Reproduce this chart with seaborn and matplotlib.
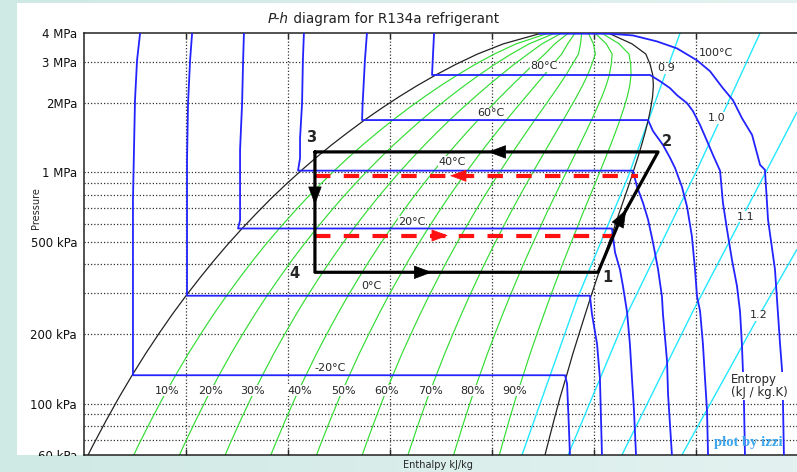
import numpy as np
import matplotlib
matplotlib.use("Agg")
import matplotlib.pyplot as plt
import matplotlib.colors as mcolors
from matplotlib.patches import Rectangle
from matplotlib.ticker import FixedLocator, NullFormatter
import seaborn as sns

# ---------------------------------------------------------------------------
# R134a saturation table (IIR reference: h = 200 kJ/kg for liquid at 0 degC)
# pressure in kPa, enthalpy in kJ/kg
sat_P = [51.2, 66.1, 84.4, 106.6, 132.7, 164.0, 200.7, 243.5, 292.8, 349.6,
         414.6, 488.6, 571.7, 665.4, 770.2, 887.0, 1016.6, 1159.9, 1317.9,
         1491.5, 1681.8, 1889.8, 2116.8, 2363.8, 2633.2, 2925.9, 3244.5,
         3591.5, 3972.4]
sat_hf = [148.1, 154.4, 160.8, 167.2, 173.6, 180.1, 186.7, 193.3, 200.0, 206.8,
          213.6, 220.5, 227.5, 234.6, 241.7, 249.0, 256.4, 263.9, 271.6,
          279.5, 287.5, 295.8, 304.3, 313.1, 322.4, 332.2, 342.9, 355.6, 373.3]
sat_hg = [374.0, 377.2, 380.3, 383.4, 386.6, 389.6, 392.7, 395.7, 398.6, 401.5,
          404.3, 407.1, 409.8, 412.3, 414.8, 417.2, 419.4, 421.5, 423.4,
          425.1, 426.6, 427.8, 428.7, 429.1, 428.8, 427.5, 425.4, 418.6, 407.7]
crit_P = 4059.0
crit_h = 389.6

# vapour quality lines
quality_levels = [0.1, 0.2, 0.3, 0.4, 0.5, 0.6, 0.7, 0.8, 0.9]
quality_labels = ["10%", "20%", "30%", "40%", "50%", "60%", "70%", "80%", "90%"]

# isotherms (liquid branch, two-phase plateau, superheated branch)
t_m20_h = [177.5, 176.0, 175.0, 174.0, 174.0, 385.8, 386.8, 387.7, 388.2]
t_m20_P = [4000, 3047, 2050, 761, 132.7, 132.7, 122, 78.8, 60]

t_0_h = [203.0, 202.0, 201.0, 200.5, 200.5, 398.0, 399.0, 401.5, 402.9, 403.9]
t_0_P = [4000, 3047, 1990, 1129, 292.8, 292.8, 244, 181, 129, 60]

t_20_h = [228.4, 228.0, 227.5, 226.5, 226.5, 225.5, 225.5, 408.8, 410.3, 412.7,
          414.2, 416.2, 417.6, 418.6, 419.6, 420.6]
t_20_P = [4000, 3047, 1990, 1250, 620, 571.7, 571.7, 571.7, 451, 381,
          322, 249, 181, 129, 93.3, 60]

t_40_h = [257.8, 257.3, 256.9, 255.9, 255.9, 254.9, 419.1, 421.1, 424.0, 426.5,
          428.9, 431.4, 433.3, 433.8, 435.8, 436.3, 438.2]
t_40_P = [4000, 3047, 1990, 1400, 1150, 1016.6, 1016.6, 866, 739, 625,
          498, 381, 291, 244, 153, 110, 60]

t_60_h = [288.7, 287.7, 286.6, 286.3, 426.5, 428.9, 433.8, 437.3, 439.7, 443.1,
          445.6, 448.0, 449.5, 450.5, 452.0, 453.4, 454.4, 455.4, 455.9]
t_60_P = [4000, 3047, 1990, 1681.8, 1681.8, 1508, 1313, 1154, 1045, 866,
          711, 528, 381, 291, 251, 181, 129, 93.3, 60]

t_80_h = [321.6, 320.6, 427.5, 432.4, 437.3, 440.7, 445.6, 448.5, 452.0, 455.4,
          458.3, 461.8, 463.2, 465.2, 467.6, 470.1, 471.6, 472.5, 473.0, 473.5, 474.0]
t_80_P = [4000, 2633.2, 2633.2, 2475, 2309, 2154, 1990, 1839, 1601, 1366,
          1189, 1015, 739, 566, 420, 322, 249, 181, 139, 103, 60]

t_100_h = [373.3, 407.7, 419.1, 430.9, 440.7, 450.5, 456.9, 463.2, 468.1, 472.5,
           477.5, 481.4, 483.8, 485.3, 488.7, 490.2, 491.2, 492.2, 492.6, 493.1]
t_100_P = [3972.4, 3972.4, 3904, 3678, 3431, 3047, 2733, 2309, 2050, 1716,
           1450, 1077, 1025, 625, 381, 244, 181, 139, 105, 60]

iso_labels = ["-20°C", "0°C", "20°C", "40°C", "60°C", "80°C", "100°C"]

# isentropes
s_a_h = [364.7, 391.7, 416.7, 442.2]
s_a_P = [60, 283, 956, 4000]
s_b_h = [387.3, 402.9, 416.2, 450.5, 481.4]
s_b_P = [60, 128, 244, 1025, 4000]
s_c_h = [413.7, 448.5, 484.8, 499.5]
s_c_P = [60, 251, 1025, 1820]
s_d_h = [443.1, 479.9, 499.5]
s_d_P = [60, 232, 464]
s_labels = ["0.9", "1.0", "1.1", "1.2"]

# refrigeration cycle 3 -> 4 -> 1 -> 2 -> 3
cycle_h = [263.2, 263.2, 402.0, 411.8, 431.4, 263.2]
cycle_P = [1225, 369.7, 369.7, 594.5, 1225, 1225]
cycle_names = ["3", "4", "1", "2"]

# alternative condensing / evaporating pressures
cond_h = [263.2, 421.6]
cond_P = [966, 966]
evap_h = [263.2, 408.8]
evap_P = [533, 533]

# axis ticks and grid
p_ticks = [60, 100, 200, 500, 1000, 2000, 3000, 4000]
p_tick_labels = ["60 kPa", "100 kPa", "200 kPa", "500 kPa", "1 MPa", "2MPa",
                 "3 MPa", "4 MPa"]
p_grid = [70, 80, 90, 100, 200, 300, 400, 500, 600, 700, 800, 900, 1000,
          2000, 3000]
h_grid = [200, 250, 300, 350, 400, 450]

# ---------------------------------------------------------------------------
BLUE = "#2323ff"
GREEN = "#33dd33"
CYAN = "#22e8ff"
RED = "#ff1111"
DOTS = (0, (1.0, 1.6))

sns.set_theme(style="white")
plt.rcParams["font.family"] = ["DejaVu Sans"]

W, H = 797.0, 472.0
fig = plt.figure(figsize=(W / 100, H / 100), dpi=100)


def teal_ramp():
    ramp = np.linspace(0, 1, 200)
    c0 = np.array(mcolors.to_rgb("#cfe9e4"))
    c1 = np.array(mcolors.to_rgb("#e3f2f0"))
    return c0[None, None, :] * (1 - ramp)[None, :, None] + c1[None, None, :] * ramp[None, :, None]


# slide background and white panel
bg = fig.add_axes([0, 0, 1, 1], zorder=-10)
bg.imshow(teal_ramp(), aspect="auto", extent=[0, 1, 0, 1])
bg.axis("off")
fig.add_artist(Rectangle((17 / W, 1 - 455 / H), (800 - 17) / W, (455 - 3) / H,
                         transform=fig.transFigure, facecolor="white",
                         edgecolor="none", zorder=-5))

ax = fig.add_axes([84 / W, 1 - 455 / H, (798 - 84) / W, (455 - 33) / H])
ax.set_facecolor("white")
ax.set_yscale("log")
ax.set_xlim(150, 500)
ax.set_ylim(60, 4000)

for h in h_grid:
    ax.axvline(h, color="#333333", lw=0.9, ls=DOTS, zorder=1)
for p in p_grid:
    ax.axhline(p, color="#333333", lw=0.9, ls=DOTS, zorder=1)

# quality lines (lever rule on the saturation table)
hf = np.array(sat_hf)
hg = np.array(sat_hg)
for q in quality_levels:
    qh = list(hf + q * (hg - hf)) + [crit_h]
    qp = list(sat_P) + [crit_P]
    sns.lineplot(x=qh, y=qp, sort=False, estimator=None, color=GREEN, lw=0.85,
                 ax=ax, zorder=2)

# isentropes
for sh, sp in [(s_a_h, s_a_P), (s_b_h, s_b_P), (s_c_h, s_c_P), (s_d_h, s_d_P)]:
    sns.lineplot(x=sh, y=sp, sort=False, estimator=None, color=CYAN, lw=1.0,
                 ax=ax, zorder=2.5)

# saturation dome
dome_h = list(sat_hf) + [crit_h] + list(sat_hg[::-1])
dome_P = list(sat_P) + [crit_P] + list(sat_P[::-1])
sns.lineplot(x=dome_h, y=dome_P, sort=False, estimator=None, color="#222222",
             lw=0.9, ax=ax, zorder=3)

# isotherms
for th, tp in [(t_m20_h, t_m20_P), (t_0_h, t_0_P), (t_20_h, t_20_P),
               (t_40_h, t_40_P), (t_60_h, t_60_P), (t_80_h, t_80_P),
               (t_100_h, t_100_P)]:
    sns.lineplot(x=th, y=tp, sort=False, estimator=None, color=BLUE, lw=1.3,
                 ax=ax, zorder=3.5)

# dashed alternative pressure levels
for lh, lp in [(cond_h, cond_P), (evap_h, evap_P)]:
    sns.lineplot(x=lh, y=lp, sort=False, estimator=None, color=RED, lw=3.0,
                 linestyle=(0, (3.7, 3.2)), ax=ax, zorder=4)

# cycle
sns.lineplot(x=cycle_h, y=cycle_P, sort=False, estimator=None, color="black",
             lw=2.3, ax=ax, zorder=5)


def arrow_head(tip, tail, color, length, halfw):
    ax.annotate("", xy=tip, xytext=tail,
                arrowprops=dict(arrowstyle=f"-|>,head_length={length},head_width={halfw}",
                                color=color, lw=0.5, shrinkA=0, shrinkB=0,
                                mutation_scale=10),
                zorder=7)


arrow_head((348.0, cycle_P[0]), (360.0, cycle_P[0]), "black", 1.2, 0.45)
arrow_head((320.6, cycle_P[2]), (310.0, cycle_P[2]), "black", 1.2, 0.45)
arrow_head((cycle_h[0], 725), (cycle_h[0], 800), "black", 1.2, 0.45)
arrow_head((415.8, 690), (cycle_h[3], cycle_P[3]), "black", 1.2, 0.45)
arrow_head((329.4, cond_P[0]), (336.0, cond_P[0]), RED, 1.08, 0.4)
arrow_head((328.4, evap_P[0]), (322.0, evap_P[0]), RED, 1.08, 0.4)

# state point numbers
name_pts = [(cycle_h[0], cycle_P[0]), (cycle_h[1], cycle_P[1]),
            (cycle_h[2], cycle_P[2]), (cycle_h[4], cycle_P[4])]
name_offsets = [(-2.9, 10.1), (-15.0, -0.7), (6.5, -3.6), (6.5, 7.2)]
for name, pt, off in zip(cycle_names, name_pts, name_offsets):
    ax.annotate(name, xy=pt, xytext=off, textcoords="offset points",
                fontsize=10.5, fontweight="bold", ha="center", va="center",
                zorder=8)

white_box = dict(facecolor="white", edgecolor="none", pad=0.4)

# isotherm labels
iso_label_h = [270.6, 290.7, 310.8, 330.4, 349.5, 375.5, 459.8]
iso_label_P = [142.8, 321.8, 612, 1110, 1803, 2871, 3266]
for txt, lh, lp in zip(iso_labels, iso_label_h, iso_label_P):
    ax.text(lh, lp, txt, fontsize=8, ha="center", va="center", bbox=white_box,
            zorder=6)

# quality labels
q_label_h = [190.7, 211.8, 232.8, 255.9, 277.0, 298.5, 319.6, 340.7, 361.3]
q_label_P = 113.7
for txt, lh in zip(quality_labels, q_label_h):
    ax.text(lh, q_label_P, txt, fontsize=8, ha="center", va="center",
            bbox=white_box, zorder=6)

# entropy labels
s_label_h = [435.3, 460.3, 474.5, 480.9]
s_label_P = [2815, 1716, 644, 241]
for txt, lh, lp in zip(s_labels, s_label_h, s_label_P):
    ax.text(lh, lp, txt, fontsize=8, ha="center", va="center", bbox=white_box,
            zorder=6)

ax.text(467.2, 119.5, "Entropy\n(kJ / kg.K)", fontsize=8.5, ha="left",
        va="center", linespacing=1.05, bbox=white_box, zorder=6)
ax.text(475.5, 68.0, "plot by izzi", fontsize=10.5, ha="center", va="center",
        family="Liberation Serif", fontweight="bold", color="#3aa6ee", zorder=6)

# axes styling
ax.set_yticks(p_ticks)
ax.set_yticklabels(p_tick_labels)
ax.yaxis.set_minor_locator(FixedLocator([60, 100, 1000, 4000]))
ax.yaxis.set_minor_formatter(NullFormatter())
ax.tick_params(axis="y", which="major", length=0, pad=5, labelsize=8.5,
               labelcolor="#111111")
ax.tick_params(axis="y", which="minor", direction="in", length=7, width=1.1,
               left=True, right=True, color="#222222")
ax.set_xticks(h_grid)
ax.tick_params(axis="x", which="major", direction="in", length=4, width=1.0,
               top=True, bottom=True, labelbottom=False, color="#222222")
ax.set_xlabel("")
ax.set_ylabel("")
for side in ["left", "bottom", "top", "right"]:
    ax.spines[side].set_visible(True)
    ax.spines[side].set_color("#222222")
    ax.spines[side].set_linewidth(1.1)
ax.grid(False)

# title with italic "P-h"
t1 = fig.text(268 / W, 1 - 19 / H, "P-h", fontsize=9.8, style="italic",
              ha="left", va="center", color="#222222")
ax.annotate(" diagram for R134a refrigerant", xy=(1, 0.5), xycoords=t1,
            fontsize=9.8, ha="left", va="center", annotation_clip=False,
            color="#222222")

fig.text(36 / W, 1 - 208 / H, "Pressure", rotation=90, fontsize=7,
         ha="center", va="center")

# bottom strip of the slide, over the lower edge of the plot
band = fig.add_axes([0, 0, 1, (H - 455.5) / H], zorder=5)
band.imshow(teal_ramp(), aspect="auto", extent=[0, 1, 0, 1])
band.axis("off")
fig.text(438 / W, 1 - 465 / H, "Enthalpy kJ/kg", fontsize=7, ha="center",
         va="center", zorder=6)

fig.savefig("out.png", dpi=100)
